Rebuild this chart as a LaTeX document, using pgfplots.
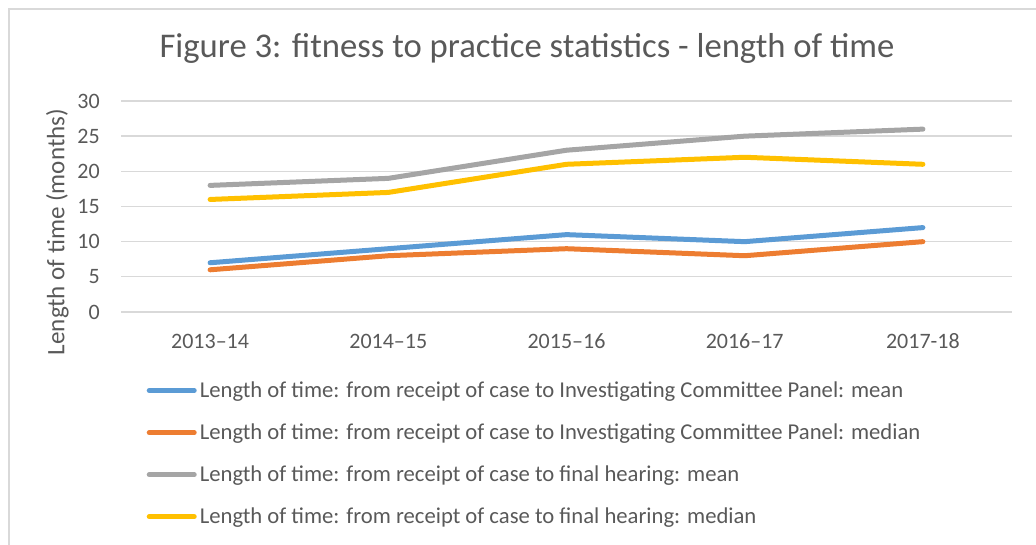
\documentclass[border=0pt]{standalone}
\usepackage{pgfplots}
\pgfplotsset{compat=1.18}
\usepackage{fontspec}
\setmainfont{Carlito}
\definecolor{txt}{HTML}{595959}
\definecolor{gridc}{HTML}{D9D9D9}
\definecolor{sblue}{HTML}{5B9BD5}
\definecolor{sorange}{HTML}{ED7D31}
\definecolor{sgray}{HTML}{A5A5A5}
\definecolor{syellow}{HTML}{FFC000}
\begin{document}
\begin{tikzpicture}
\useasboundingbox (0,0) rectangle (777pt,408.75pt);
\draw[gridc, line width=1.5pt] (6.75pt,0) -- (6.75pt,402pt) -- (777pt,402pt);
\node[txt, font=\fontsize{26}{30}\selectfont] at (395.25pt,372.75pt) {Figure 3: fitness to practice statistics - length of time};
\node[txt, font=\fontsize{18.8}{22}\selectfont, rotate=90] at (43pt,234.75pt) {Length of time (months)};
\begin{axis}[
  at={(90.75pt,174.75pt)}, anchor=south west,
  scale only axis, width=668.25pt, height=158.25pt,
  xmin=-0.5, xmax=4.5, ymin=0, ymax=30,
  xtick={0,1,2,3,4},
  xticklabels={2013--14,2014--15,2015--16,2016--17,2017-18},
  ytick={0,5,10,15,20,25,30},
  ymajorgrids, grid style={gridc, line width=1pt},
  axis line style={draw=none},
  major tick length=0pt,
  clip=false,
  /pgf/number format/assume math mode=true,
  tick label style={txt, font=\fontsize{16.5}{19}\selectfont, inner sep=0pt},
  xticklabel style={anchor=center, yshift=-21.75pt},
  yticklabel style={anchor=east, xshift=-15.75pt},
  every axis plot/.append style={line width=3.75pt, line join=round, line cap=round},
  legend cell align=left,
  legend style={at={(0.0286,-0.316)}, anchor=north west, draw=none, fill=none,
    font=\fontsize{17}{20}\selectfont, text=txt, row sep=14.3pt, inner sep=0pt,
    /tikz/every odd column/.append style={column sep=0.3pt}},
  legend image code/.code={\draw[#1, line width=3.75pt, line cap=round] (0pt,0pt) -- (33.75pt,0pt);},
]
\addplot[sblue] coordinates {(0,7) (1,9) (2,11) (3,10) (4,12)};
\addlegendentry{Length of time: from receipt of case to Investigating Committee Panel: mean}
\addplot[sorange] coordinates {(0,6) (1,8) (2,9) (3,8) (4,10)};
\addlegendentry{Length of time: from receipt of case to Investigating Committee Panel: median}
\addplot[sgray] coordinates {(0,18) (1,19) (2,23) (3,25) (4,26)};
\addlegendentry{Length of time: from receipt of case to final hearing: mean}
\addplot[syellow] coordinates {(0,16) (1,17) (2,21) (3,22) (4,21)};
\addlegendentry{Length of time: from receipt of case to final hearing: median}
\end{axis}
\end{tikzpicture}
\end{document}
